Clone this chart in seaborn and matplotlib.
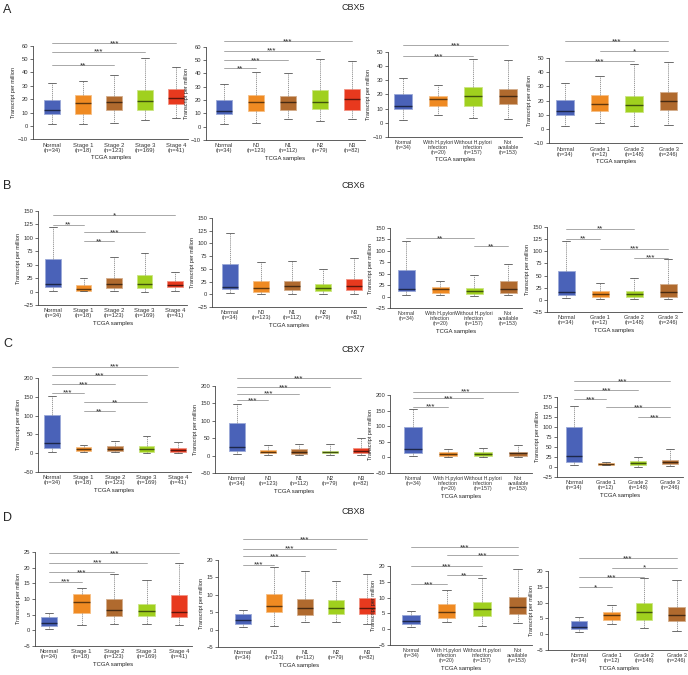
import numpy as np
import pandas as pd
import matplotlib
matplotlib.use('Agg')
import matplotlib.pyplot as plt
import matplotlib.colors as mcolors
import seaborn as sns

sns.set_theme(style='ticks')
plt.rcParams['font.family'] = ['Liberation Sans', 'DejaVu Sans']

# --- categories (x tick labels) ---
STAGE_CATS = ['Normal\n(n=34)', 'Stage 1\n(n=18)', 'Stage 2\n(n=123)', 'Stage 3\n(n=169)', 'Stage 4\n(n=41)']
NODAL_CATS = ['Normal\n(n=34)', 'N0\n(n=123)', 'N1\n(n=112)', 'N2\n(n=79)', 'N3\n(n=82)']
HP_CATS = ['Normal\n(n=34)', 'With H.pylori\ninfection\n(n=20)', 'Without H.pylori\ninfection\n(n=157)',
           'Not\navailable\n(n=153)']
GRADE_CATS = ['Normal\n(n=34)', 'Grade 1\n(n=12)', 'Grade 2\n(n=148)', 'Grade 3\n(n=246)']

BLUE, ORANGE, BROWN, LIME, RED = '#4a62b8', '#ef8a22', '#b06a2e', '#a0d01e', '#e8391e'
STAGE_COLORS = [BLUE, ORANGE, BROWN, LIME, RED]
NODAL_COLORS = [BLUE, ORANGE, BROWN, LIME, RED]
HP_COLORS = [BLUE, ORANGE, LIME, BROWN]
GRADE_COLORS = [BLUE, ORANGE, LIME, BROWN]

GENES = ['CBX5', 'CBX6', 'CBX7', 'CBX8']

# --- box summaries: (whisker low, Q1, median, Q3, whisker high) ---
CBX5_STAGE = [(1.75, 9.25, 11.75, 19.75, 31.75), (1.75, 9.25, 17.5, 23.5, 33.75), (2.5, 12.25, 18, 22.25, 37.75),
              (4.75, 12.25, 18.5, 26.75, 50.5), (6.25, 16.25, 21.25, 27.5, 43.75)]
CBX5_NODAL = [(1.75, 9.25, 12, 19.75, 31.75), (2.5, 12, 18.5, 23.5, 40.75), (5.5, 12.5, 18.5, 23, 40.5),
              (4, 13, 18.7, 27.5, 51), (5.5, 12.5, 20.5, 28, 49)]
CBX5_HP = [(1.9, 9.5, 11.8, 20, 32), (5.5, 11.8, 16.8, 19, 26.5), (3.5, 11.8, 19, 25.4, 45), (2.8, 13, 19, 24.2, 44.3)]
CBX5_GRADE = [(1.9, 9.5, 12.3, 20.5, 32), (4.2, 12.3, 17.4, 24, 37.4), (2.3, 11.9, 16.7, 23.5, 45.6),
              (2.8, 13.5, 19.3, 25.8, 46.7)]

CBX6_STAGE = [(1.9, 9.3, 13.7, 60, 121), (0.6, 1.9, 5, 12.4, 25), (1.2, 6.8, 14.3, 25.5, 63.5),
              (0, 6.2, 14.3, 30, 71.6), (1.9, 8, 12.4, 20.5, 37)]
CBX6_NODAL = [(1.9, 9.5, 15, 59, 121), (1.3, 4.6, 12.6, 26, 63), (1.3, 8, 16, 26, 65.5),
              (1.3, 6.6, 12.6, 21, 49), (1.3, 8, 16, 30, 71)]
CBX6_HP = [(4.4, 11.7, 17.5, 59, 121), (4.4, 8, 17.5, 21, 35), (1.5, 6.6, 11.7, 19, 46.7), (3, 8, 17.5, 33.6, 72)]
CBX6_GRADE = [(3.4, 10, 15.6, 60, 122), (2, 6.8, 12.2, 19, 34), (1.4, 6.8, 12.2, 18.4, 44), (2, 6.8, 15.6, 32, 83.7)]

CBX7_STAGE = [(4.5, 13.4, 27, 101, 152), (4.5, 7, 11.6, 16, 22), (2.7, 6, 11.6, 18, 33),
              (0, 4.5, 10.7, 19.6, 46.4), (1.8, 4.5, 9, 13.4, 28.6)]
CBX7_NODAL = [(4.8, 13.3, 24.7, 95, 149), (1.9, 6.7, 11.4, 16, 30.4), (1.9, 5.7, 11.4, 19, 32),
              (1.9, 6.7, 10.5, 14, 32), (1.9, 6.7, 13.3, 21, 49.4)]
CBX7_HP = [(5.3, 12.8, 25.7, 98, 155), (2.1, 5.3, 10.7, 16, 26.7), (0, 5.3, 10.7, 16, 31), (2.1, 5.3, 12.8, 18.2, 39.6)]
CBX7_GRADE = [(5.8, 12.5, 26.7, 100, 151.7), (4.2, 5.8, 7.5, 9, 12.5), (0, 5.8, 10, 14, 25), (1.7, 7.5, 12.5, 18.3, 45)]

CBX8_STAGE = [(0.5, 1.4, 2.5, 4.3, 5.4), (1.8, 5.6, 8.9, 11.6, 13.4), (1.9, 4.6, 6.6, 9.9, 18),
              (2.1, 4.5, 6.1, 8.3, 16), (1.6, 4.1, 5.9, 11.3, 21.4)]
CBX8_NODAL = [(0.7, 1.6, 2.7, 4.5, 5.5), (0.9, 5, 6.7, 10.3, 17.9), (2.1, 4.2, 6.1, 8.8, 16.8),
              (2.1, 4.6, 6.1, 8.4, 14), (1.6, 4.5, 6.1, 9, 16)]
CBX8_HP = [(0.8, 1.7, 2.6, 4.5, 5.8), (2.2, 3.5, 5.3, 8, 12.4), (1, 4.3, 6.3, 8.5, 16.2), (2.1, 4.8, 6.9, 10.3, 19)]
CBX8_GRADE = [(0.6, 1.7, 2.4, 4.3, 5.6), (3.3, 4.5, 6.1, 7, 9.3), (1.9, 4.5, 6.9, 9.8, 17.8), (1, 4.3, 6.1, 8.6, 17)]

# --- significance brackets: (group i, group j, height, label) ---
CBX5_STAGE_SIG = [(0, 2, 45.5, '**'), (0, 3, 55.5, '***'), (0, 4, 61.75, '***')]
CBX5_NODAL_SIG = [(0, 1, 43.75, '**'), (0, 2, 50, '***'), (0, 3, 57, '***'), (0, 4, 64, '***')]
CBX5_HP_SIG = [(0, 2, 47.4, '***'), (0, 3, 55.2, '***')]
CBX5_GRADE_SIG = [(0, 2, 47.7, '***'), (1, 3, 54.6, '*'), (0, 3, 61.6, '***')]

CBX6_STAGE_SIG = [(1, 2, 94, '**'), (1, 3, 110.8, '***'), (0, 1, 124.5, '**'), (0, 4, 142, '*')]
CBX6_NODAL_SIG = []
CBX6_HP_SIG = [(2, 3, 110, '**'), (0, 2, 128, '**')]
CBX6_GRADE_SIG = [(2, 3, 86.4, '***'), (1, 3, 105.4, '***'), (0, 1, 126, '**'), (0, 2, 146, '**')]

CBX7_STAGE_SIG = [(1, 2, 111.6, '**'), (1, 3, 135.7, '**'), (0, 1, 160.7, '***'), (0, 2, 183, '***'),
                  (0, 3, 207, '***'), (0, 4, 229.5, '***')]
CBX7_NODAL_SIG = [(0, 1, 158.7, '***'), (0, 2, 177.8, '***'), (0, 3, 196.8, '***'), (0, 4, 223, '***')]
CBX7_HP_SIG = [(0, 1, 162.6, '***'), (0, 2, 189.3, '***'), (0, 3, 210.7, '***')]
CBX7_GRADE_SIG = [(2, 3, 125, '***'), (1, 3, 149, '***'), (0, 1, 170, '***'), (0, 2, 191.7, '***'),
                  (0, 3, 214, '***')]

CBX8_STAGE_SIG = [(0, 1, 15.5, '***'), (0, 2, 18.5, '***'), (0, 3, 21.6, '***'), (0, 4, 24.6, '***')]
CBX8_NODAL_SIG = [(0, 1, 18.6, '***'), (0, 2, 21.1, '***'), (0, 3, 23.3, '***'), (0, 4, 25.9, '***')]
CBX8_HP_SIG = [(0, 1, 14.2, '***'), (1, 2, 17, '**'), (0, 2, 19.9, '***'), (1, 3, 23.4, '***'), (0, 3, 26, '***')]
CBX8_GRADE_SIG = [(0, 1, 14.9, '*'), (0, 2, 18.1, '***'), (1, 3, 21.1, '*'), (0, 3, 24.1, '***')]

# --- y tick ranges per panel ---
CBX5_TICKS = [np.arange(-10, 61, 10), np.arange(-10, 61, 10), np.arange(-10, 51, 10), np.arange(-10, 51, 10)]
CBX6_TICKS = [np.arange(-25, 151, 25)] * 4
CBX7_TICKS = [np.arange(-50, 201, 50)] * 3 + [np.arange(-25, 176, 25)]
CBX8_TICKS = [np.arange(-5, 26, 5), np.arange(-5, 21, 5), np.arange(-5, 21, 5), np.arange(-5, 21, 5)]

# layout in pixels: (y-axis x, first box centre, box spacing, top tick y, bottom tick y)
LAYOUT = [
    [(33, 52, 31, 45.7, 139.3), (206, 224, 32, 46.7, 140), (388, 403, 35, 52.3, 136.7), (549, 565, 34.5, 57.7, 143.3)],
    [(38, 53, 30.5, 211, 305), (212, 230, 31, 218, 307), (390, 406, 34, 228, 308), (547, 566, 34, 227, 312)],
    [(38, 52, 31.5, 378, 472), (215, 237, 31, 386, 473), (390, 413, 35, 395, 473), (557, 574, 32, 397, 477)],
    [(35, 49, 32.5, 552, 646), (218, 243, 31, 560, 647), (390, 411, 35.5, 566, 645), (548, 579, 32.5, 571, 650)],
]
XLABEL_SIZE = [4.2, 4.1, 3.8, 4.0]
LETTER_Y = [10, 186, 344, 518]
TITLE_Y = [7, 185, 350, 512]

W, H = 688, 675


def lighten(color, amount=0.45):
    c = np.array(mcolors.to_rgb(color))
    return tuple(c + (1 - c) * amount)


def draw_panel(ax, cats, colors, boxes, sig, yticks, xsize):
    rows = []
    for cat, stats in zip(cats, boxes):
        for v in stats:
            rows.append((cat, v))
    df = pd.DataFrame(rows, columns=['group', 'tpm'])
    sns.boxplot(data=df, x='group', y='tpm', hue='group', order=cats, hue_order=cats,
                palette=dict(zip(cats, colors)), legend=False, width=0.5, whis=(0, 100),
                showfliers=False, linewidth=0.6, linecolor='#666666', saturation=1,
                medianprops=dict(color='black', alpha=0.6, linewidth=1.0),
                whiskerprops=dict(color='#8a8a8a', linestyle=(0, (1.5, 1))),
                capprops=dict(color='#555555'), ax=ax)
    for p in ax.patches:
        p.set_edgecolor(lighten(p.get_facecolor()))

    for i, j, y, stars in sig:
        ax.plot([i, j], [y, y], color='#9a9a9a', lw=0.6, clip_on=False)
        ax.annotate(stars, ((i + j) / 2, y), xytext=(0, -1.4), textcoords='offset points',
                    ha='center', va='baseline', fontsize=5.8, annotation_clip=False)

    ax.set_ylim(yticks[0], yticks[-1])
    ax.set_yticks(yticks)
    ax.set_xlabel('TCGA samples', fontsize=4.3, labelpad=1.5, color='#222222')
    ax.set_ylabel('Transcript per million', fontsize=4, labelpad=1.5, color='#222222')
    ax.tick_params(axis='y', labelsize=4.2, length=2, width=0.5, pad=1.5, colors='#333333')
    ax.tick_params(axis='x', labelsize=xsize, length=0, pad=2.5, colors='#333333')
    for lbl in ax.get_xticklabels():
        lbl.set_linespacing(1.0)
    sns.despine(ax=ax)
    for side in ['left', 'bottom']:
        ax.spines[side].set_linewidth(0.6)
        ax.spines[side].set_color('#444444')


fig = plt.figure(figsize=(W / 100, H / 100), dpi=100)

all_boxes = [[CBX5_STAGE, CBX5_NODAL, CBX5_HP, CBX5_GRADE],
             [CBX6_STAGE, CBX6_NODAL, CBX6_HP, CBX6_GRADE],
             [CBX7_STAGE, CBX7_NODAL, CBX7_HP, CBX7_GRADE],
             [CBX8_STAGE, CBX8_NODAL, CBX8_HP, CBX8_GRADE]]
all_sig = [[CBX5_STAGE_SIG, CBX5_NODAL_SIG, CBX5_HP_SIG, CBX5_GRADE_SIG],
           [CBX6_STAGE_SIG, CBX6_NODAL_SIG, CBX6_HP_SIG, CBX6_GRADE_SIG],
           [CBX7_STAGE_SIG, CBX7_NODAL_SIG, CBX7_HP_SIG, CBX7_GRADE_SIG],
           [CBX8_STAGE_SIG, CBX8_NODAL_SIG, CBX8_HP_SIG, CBX8_GRADE_SIG]]
all_ticks = [CBX5_TICKS, CBX6_TICKS, CBX7_TICKS, CBX8_TICKS]
col_cats = [STAGE_CATS, NODAL_CATS, HP_CATS, GRADE_CATS]
col_colors = [STAGE_COLORS, NODAL_COLORS, HP_COLORS, GRADE_COLORS]

for r in range(4):
    fig.text(3 / W, 1 - LETTER_Y[r] / H, 'ABCD'[r], fontsize=9, ha='left', va='center')
    fig.text(353 / W, 1 - TITLE_Y[r] / H, GENES[r], fontsize=6.5, ha='center', va='center')
    for c in range(4):
        axis_x, c0, s, y_top, y_bot = LAYOUT[r][c]
        n = len(col_cats[c])
        xl = -(c0 - axis_x) / s
        xr = n - 1 + 0.4
        left = axis_x
        right = axis_x + (xr - xl) * s
        ax = fig.add_axes([left / W, 1 - y_bot / H, (right - left) / W, (y_bot - y_top) / H])
        draw_panel(ax, col_cats[c], col_colors[c], all_boxes[r][c], all_sig[r][c], all_ticks[r][c],
                   XLABEL_SIZE[c])
        ax.set_xlim(xl, xr)

fig.savefig('out.png', dpi=100)
